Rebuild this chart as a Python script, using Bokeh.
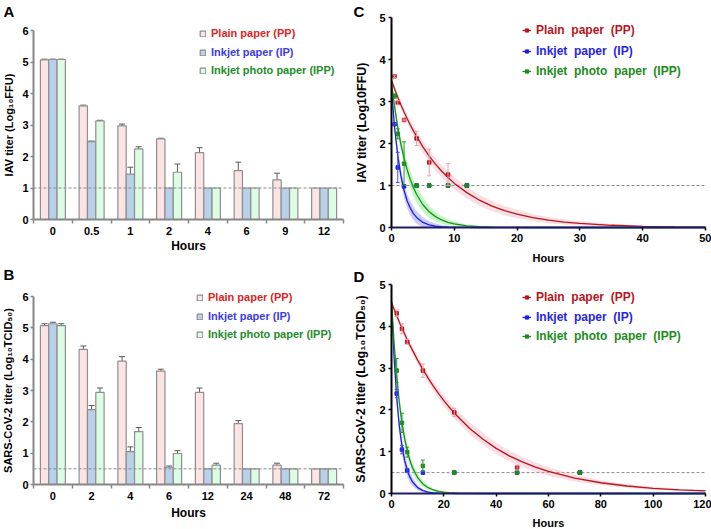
from bokeh.plotting import figure
from bokeh.models import (Range1d, FixedTicker, Whisker, TeeHead, ColumnDataSource,
                          Legend, LegendItem, Label)
from bokeh.layouts import row, column
from bokeh.embed import file_html
from bokeh.resources import INLINE

FONT = "Liberation Sans"

# ---------------- data: bar panels ----------------
hours_A = ["0", "0.5", "1", "2", "4", "6", "9", "12"]
pp_A = [5.07, 3.61, 2.97, 2.56, 2.12, 1.55, 1.26, 1.00]
pp_A_err = [0.02, 0.02, 0.06, 0.02, 0.16, 0.27, 0.21, 0.0]
ip_A = [5.08, 2.47, 1.44, 1.00, 1.00, 1.00, 1.00, 1.00]
ip_A_err = [0.01, 0.02, 0.22, 0.0, 0.0, 0.0, 0.0, 0.0]
ipp_A = [5.08, 3.13, 2.24, 1.50, 1.00, 1.00, 1.00, 1.00]
ipp_A_err = [0.01, 0.02, 0.07, 0.26, 0.0, 0.0, 0.0, 0.0]
lod_A = 1.0

hours_B = ["0", "2", "4", "6", "12", "24", "48", "72"]
pp_B = [5.07, 4.31, 3.94, 3.62, 2.94, 1.94, 0.62, 0.50]
pp_B_err = [0.06, 0.11, 0.14, 0.06, 0.14, 0.10, 0.06, 0.0]
ip_B = [5.13, 2.39, 1.05, 0.55, 0.50, 0.50, 0.50, 0.50]
ip_B_err = [0.05, 0.13, 0.15, 0.04, 0.0, 0.0, 0.0, 0.0]
ipp_B = [5.07, 2.94, 1.69, 0.99, 0.62, 0.50, 0.50, 0.50]
ipp_B_err = [0.06, 0.14, 0.13, 0.09, 0.06, 0.0, 0.0, 0.0]
lod_B = 0.5

# ---------------- data: decay panels ----------------
t_C = [0, 0.5, 1, 1.5, 2, 2.5, 3, 3.5, 4, 5, 6, 7, 8, 9, 10, 12, 14, 16, 18, 20,
       22.5, 25, 27.5, 30, 35, 40, 45, 50]
pp_fit_C = [3.50, 3.30, 3.10, 2.92, 2.75, 2.59, 2.44, 2.30, 2.17, 1.92, 1.70, 1.51, 1.34, 1.19,
            1.05, 0.83, 0.65, 0.51, 0.40, 0.32, 0.235, 0.174, 0.129, 0.096, 0.053, 0.029, 0.016, 0.009]
pp_band_C = [0.06, 0.07, 0.08, 0.09, 0.10, 0.11, 0.12, 0.125, 0.13, 0.14, 0.145, 0.15, 0.15, 0.15,
             0.15, 0.14, 0.13, 0.12, 0.11, 0.10, 0.085, 0.07, 0.06, 0.05, 0.035, 0.02, 0.012, 0.008]
ip_fit_C = [3.30, 2.37, 1.71, 1.23, 0.88, 0.63, 0.46, 0.33, 0.24, 0.12, 0.063, 0.033, 0.017, 0.009,
            0.0045, 0.001, 0, 0, 0, 0, 0, 0, 0, 0, 0, 0, 0, 0]
ip_band_C = [0.05, 0.10, 0.14, 0.16, 0.17, 0.17, 0.17, 0.16, 0.15, 0.12, 0.09, 0.06, 0.04, 0.03,
             0.02, 0.01, 0.005, 0, 0, 0, 0, 0, 0, 0, 0, 0, 0, 0]
ipp_fit_C = [3.45, 2.87, 2.38, 1.98, 1.65, 1.37, 1.14, 0.945, 0.785, 0.542, 0.375, 0.259, 0.179, 0.123,
             0.085, 0.041, 0.0195, 0.0093, 0.0044, 0.002, 0, 0, 0, 0, 0, 0, 0, 0]
ipp_band_C = [0.05, 0.10, 0.14, 0.17, 0.19, 0.20, 0.20, 0.20, 0.19, 0.17, 0.14, 0.115, 0.09, 0.07,
              0.055, 0.03, 0.017, 0.009, 0.005, 0.002, 0, 0, 0, 0, 0, 0, 0, 0]

pts_t_C = [0.5, 1, 2, 4, 6, 9, 12]
pp_pts_C = [3.60, 2.97, 2.56, 2.12, 1.55, 1.26, 1.00]
pp_pts_C_err = [0.03, 0.05, 0.02, 0.17, 0.32, 0.26, 0.0]
ip_pts_C = [2.46, 1.43, 0.98, 1.00, 1.00, 1.00, 1.00]
ip_pts_C_err = [0.02, 0.36, 0.0, 0.0, 0.0, 0.0, 0.0]
ipp_pts_C = [3.13, 2.23, 1.52, 1.00, 1.00, 1.00, 1.00]
ipp_pts_C_err = [0.05, 0.12, 0.52, 0.0, 0.0, 0.0, 0.0]

t_D = [0, 1, 2, 3, 4, 5, 6, 7, 8, 10, 12, 14, 16, 18, 20, 22, 25, 30, 35, 40, 45, 50, 55, 60,
       70, 80, 90, 100, 110, 120]
pp_fit_D = [4.57, 4.41, 4.25, 4.10, 3.96, 3.82, 3.68, 3.55, 3.43, 3.19, 2.97, 2.76, 2.57, 2.39,
            2.22, 2.07, 1.86, 1.55, 1.30, 1.08, 0.90, 0.755, 0.631, 0.527, 0.368, 0.257, 0.179,
            0.125, 0.087, 0.061]
pp_band_D = [0.07, 0.07, 0.075, 0.075, 0.08, 0.08, 0.085, 0.085, 0.09, 0.095, 0.10, 0.11, 0.115,
             0.12, 0.125, 0.13, 0.135, 0.14, 0.14, 0.135, 0.13, 0.12, 0.11, 0.10, 0.08, 0.06,
             0.045, 0.035, 0.025, 0.02]
ip_fit_D = [4.60, 3.24, 2.28, 1.61, 1.13, 0.80, 0.563, 0.397, 0.280, 0.139, 0.069, 0.034, 0.017,
            0.0085, 0.0042, 0.002, 0, 0, 0, 0, 0, 0, 0, 0, 0, 0, 0, 0, 0, 0]
ip_band_D = [0.05, 0.12, 0.16, 0.18, 0.18, 0.17, 0.15, 0.13, 0.10, 0.06, 0.035, 0.02, 0.01,
             0.005, 0.002, 0, 0, 0, 0, 0, 0, 0, 0, 0, 0, 0, 0, 0, 0, 0]
ipp_fit_D = [4.60, 3.58, 2.79, 2.17, 1.69, 1.32, 1.03, 0.80, 0.62, 0.378, 0.229, 0.139, 0.084,
             0.051, 0.031, 0.019, 0.009, 0.0025, 0, 0, 0, 0, 0, 0, 0, 0, 0, 0, 0, 0]
ipp_band_D = [0.05, 0.12, 0.16, 0.18, 0.19, 0.18, 0.17, 0.15, 0.13, 0.10, 0.07, 0.05, 0.035,
              0.025, 0.015, 0.01, 0.005, 0.002, 0, 0, 0, 0, 0, 0, 0, 0, 0, 0, 0, 0]

pts_t_D = [2, 4, 6, 12, 24, 48, 72]
pp_pts_D = [4.31, 3.94, 3.63, 2.94, 1.94, 0.62, 0.50]
pp_pts_D_err = [0.08, 0.12, 0.06, 0.16, 0.10, 0.06, 0.0]
ip_pts_D = [2.39, 1.05, 0.55, 0.50, 0.50, 0.50, 0.50]
ip_pts_D_err = [0.10, 0.10, 0.05, 0.0, 0.0, 0.0, 0.0]
ipp_pts_D = [2.94, 1.69, 0.99, 0.66, 0.50, 0.50, 0.50]
ipp_pts_D_err = [0.29, 0.23, 0.12, 0.14, 0.0, 0.0, 0.0]

names_bar = ["Plain paper (PP)", "Inkjet paper (IP)", "Inkjet photo paper (IPP)"]
names_curve = ["Plain  paper  (PP)", "Inkjet  paper  (IP)", "Inkjet  photo  paper  (IPP)"]

# ---------------- styles ----------------
AXGRAY = "#868686"
BARLINE = "#8e8e8e"
ERRC = "#5a5a5a"
bar_fill = ["#fde4e4", "#b9d0ea", "#dcfce4"]
bar_text = ["#dd1f1f", "#3b3bf0", "#238c2a"]
line_col = ["#b8141c", "#1e1ee8", "#1c8c1c"]
band_col = ["#f2a0b2", "#6a6aff", "#50e650"]
err_col = ["#e6a0a8", "#4848ff", "#2a9a2a"]
curve_text = ["#b8141c", "#2424ee", "#1c8c1c"]


def make_fig(W, H, box, xlim, ylim):
    """Figure whose frame is the whole canvas; the data box (px) is placed at `box`."""
    bl, bt, bw, bh = box
    sx = (xlim[1] - xlim[0]) / bw
    sy = (ylim[1] - ylim[0]) / bh
    xr = Range1d(xlim[0] - bl * sx, xlim[0] + (W - bl) * sx)
    yr = Range1d(ylim[0] - (H - bt - bh) * sy, ylim[1] + bt * sy)
    p = figure(width=W, height=H, x_range=xr, y_range=yr, output_backend="svg",
               toolbar_location=None, min_border=0)
    p.outline_line_color = None
    p.xgrid.visible = False
    p.ygrid.visible = False
    xa, ya = p.xaxis[0], p.yaxis[0]
    xa.fixed_location = ylim[0]
    xa.bounds = tuple(xlim)
    ya.fixed_location = xlim[0]
    ya.bounds = tuple(ylim)
    for ax in (xa, ya):
        ax.major_label_text_font = FONT
        ax.major_label_text_font_style = "bold"
        ax.major_label_text_font_size = "11px"
        ax.major_label_text_color = "black"
        ax.axis_label_text_font = FONT
        ax.axis_label_text_font_style = "bold"
        ax.axis_label_text_color = "black"
        ax.minor_tick_line_color = None
        ax.major_tick_in = 0

    def to_data(px, py):
        return xr.start + px * sx, yr.end - py * sy
    return p, to_data


def panel_letter(p, to_data, text, px, py):
    x, y = to_data(px, py)
    p.add_layout(Label(x=x, y=y, text=text, text_font=FONT, text_font_style="bold",
                       text_font_size="15px", text_baseline="top", text_align="left",
                       text_color="black"))


def add_legend(p, item, loc, color, size, gw, gh, standoff):
    lg = Legend(items=[item], location=loc, label_text_color=color, label_text_font=FONT,
                label_text_font_style="bold", label_text_font_size=size,
                glyph_width=gw, glyph_height=gh, label_standoff=standoff, label_height=14,
                padding=0, margin=0, spacing=0, background_fill_alpha=0, border_line_alpha=0)
    p.add_layout(lg)


def bar_panel(W, H, box, hours, series, ylabel, lod, leg_x, leg_rows, letter, letter_pos,
              ylab_standoff, hours_standoff):
    n = len(hours)
    xlim, ylim = (-0.5, n - 0.5), (0, 6)
    p, to_data = make_fig(W, H, box, xlim, ylim)
    centers = list(range(n))
    xa, ya = p.xaxis[0], p.yaxis[0]
    xa.ticker = FixedTicker(ticks=centers, minor_ticks=[i - 0.5 for i in range(n + 1)])
    xa.major_label_overrides = {i: h for i, h in enumerate(hours)}
    xa.major_tick_out = 4
    xa.major_tick_line_color = None
    xa.minor_tick_out = 4
    xa.minor_tick_in = 0
    xa.minor_tick_line_color = AXGRAY
    xa.minor_tick_line_width = 1.5
    xa.major_label_standoff = 3
    xa.axis_label = "Hours"
    xa.axis_label_text_font_size = "12px"
    xa.axis_label_standoff = hours_standoff
    xa.axis_line_color = AXGRAY
    xa.axis_line_width = 2
    ya.ticker = FixedTicker(ticks=[0, 1, 2, 3, 4, 5, 6])
    ya.major_tick_out = 3
    ya.major_tick_line_color = AXGRAY
    ya.major_tick_line_width = 1.5
    ya.major_label_standoff = 2
    ya.axis_label = ylabel
    ya.axis_label_text_font_size = "11px"
    ya.axis_label_standoff = ylab_standoff
    ya.axis_line_color = AXGRAY
    ya.axis_line_width = 2

    offsets = [-0.215, 0.0, 0.215]
    for k, (name, vals, errs) in enumerate(series):
        xs = [c + offsets[k] for c in centers]
        src = ColumnDataSource(dict(x=xs, top=vals))
        r = p.vbar(x="x", top="top", bottom=0, width=0.215, source=src,
                   fill_color=bar_fill[k], line_color=BARLINE, line_width=1.2)
        ex = [x for x, e in zip(xs, errs) if e > 0]
        lo = [v for v, e in zip(vals, errs) if e > 0]
        up = [v + e for v, e in zip(vals, errs) if e > 0]
        wsrc = ColumnDataSource(dict(base=ex, lower=lo, upper=up))
        p.add_layout(Whisker(base="base", lower="lower", upper="upper", source=wsrc,
                             dimension="height", line_color=ERRC, line_width=1,
                             upper_head=TeeHead(size=6, line_color=ERRC, line_width=1),
                             lower_head=None))
        add_legend(p, LegendItem(label=name, renderers=[r]), (leg_x, H - leg_rows[k] - 7),
                   bar_text[k], "11px", 7, 7, 5)
    p.segment(x0=xlim[0], x1=xlim[1], y0=lod, y1=lod, line_color="#8a8a8a",
              line_dash="3 2", line_width=1)
    panel_letter(p, to_data, letter, *letter_pos)
    return p


def curve_panel(W, H, box, xmax, xticks, t, curves, pts_t, ylabel, lod, leg_x, leg_rows,
                letter, letter_pos, ylab_standoff, hours_standoff):
    xlim, ylim = (0, xmax), (0, 5)
    p, to_data = make_fig(W, H, box, xlim, ylim)
    xa, ya = p.xaxis[0], p.yaxis[0]
    xa.ticker = FixedTicker(ticks=xticks)
    ya.ticker = FixedTicker(ticks=[0, 1, 2, 3, 4, 5])
    for ax in (xa, ya):
        ax.major_tick_out = 3
        ax.major_tick_line_color = "black"
        ax.major_tick_line_width = 1.5
        ax.major_label_standoff = 3
        ax.axis_line_width = 2
    ya.axis_line_color = "black"
    xa.axis_line_color = "#1c1c6a"
    xa.axis_label = "Hours"
    xa.axis_label_text_font_size = "11px"
    xa.axis_label_standoff = hours_standoff
    ya.axis_label = ylabel
    ya.axis_label_text_font_size = "12.5px"
    ya.axis_label_standoff = ylab_standoff

    p.segment(x0=xlim[0], x1=xlim[1], y0=lod, y1=lod, line_color="#8a8a8a",
              line_dash="3 2", line_width=1)
    for k, (name, fit, band, pv, pe) in enumerate(curves):
        lower = [max(0.0, a - b) for a, b in zip(fit, band)]
        upper = [a + b for a, b in zip(fit, band)]
        p.varea(x=t, y1=lower, y2=upper, fill_color=band_col[k], fill_alpha=0.35)
    for k, (name, fit, band, pv, pe) in enumerate(curves):
        ln = p.line(x=t, y=fit, line_color=line_col[k], line_width=1.3)
        ex = [x for x, e in zip(pts_t, pe) if e > 0]
        lo = [v - e for v, e in zip(pv, pe) if e > 0]
        up = [v + e for v, e in zip(pv, pe) if e > 0]
        wsrc = ColumnDataSource(dict(base=ex, lower=lo, upper=up))
        p.add_layout(Whisker(base="base", lower="lower", upper="upper", source=wsrc,
                             dimension="height", line_color=err_col[k], line_width=1,
                             upper_head=TeeHead(size=4, line_color=err_col[k], line_width=1),
                             lower_head=TeeHead(size=4, line_color=err_col[k], line_width=1),
                             level="glyph"))
        sc = p.scatter(x=pts_t, y=pv, marker="square", size=3.5, fill_color=line_col[k],
                       line_color=line_col[k])
        add_legend(p, LegendItem(label=name, renderers=[ln, sc]), (leg_x, H - leg_rows[k] - 7),
                   curve_text[k], "12px", 9, 8, 5)
    panel_letter(p, to_data, letter, *letter_pos)
    return p


pA = bar_panel(350, 256, (33, 30, 310, 189), hours_A,
               [(names_bar[0], pp_A, pp_A_err), (names_bar[1], ip_A, ip_A_err),
                (names_bar[2], ipp_A, ipp_A_err)],
               "IAV titer (Log\u2081\u2080FFU)", lod_A, 199, [33, 52, 70], "A", (3, 2), 4, 1)
pB = bar_panel(350, 273, (33, 40, 310, 188), hours_B,
               [(names_bar[0], pp_B, pp_B_err), (names_bar[1], ip_B, ip_B_err),
                (names_bar[2], ipp_B, ipp_B_err)],
               "SARS-CoV-2 titer (Log\u2081\u2080TCID\u2085\u2080)", lod_B, 196, [41, 60, 78],
               "B", (3, 9), 5, 3)

pC = curve_panel(361, 266, (41, 17, 314, 210), 50, [0, 10, 20, 30, 40, 50], t_C,
                 [(names_curve[0], pp_fit_C, pp_band_C, pp_pts_C, pp_pts_C_err),
                  (names_curve[1], ip_fit_C, ip_band_C, ip_pts_C, ip_pts_C_err),
                  (names_curve[2], ipp_fit_C, ipp_band_C, ipp_pts_C, ipp_pts_C_err)],
                 pts_t_C, "IAV titer (Log10FFU)", lod_A, 172, [30, 51, 71], "C", (3, 2), 7, 7)
pD = curve_panel(361, 263, (41, 18, 314, 209), 120, [0, 20, 40, 60, 80, 100, 120], t_D,
                 [(names_curve[0], pp_fit_D, pp_band_D, pp_pts_D, pp_pts_D_err),
                  (names_curve[1], ip_fit_D, ip_band_D, ip_pts_D, ip_pts_D_err),
                  (names_curve[2], ipp_fit_D, ipp_band_D, ipp_pts_D, ipp_pts_D_err)],
                 pts_t_D, "SARS-CoV-2 titer (Log\u2081\u2080TCID\u2085\u2080)", lod_B, 172,
                 [31, 51, 70], "D", (3, 1), 8, 6)

layout = row(column(pA, pB), column(pC, pD))
open("out.html", "w").write(file_html(layout, INLINE))
